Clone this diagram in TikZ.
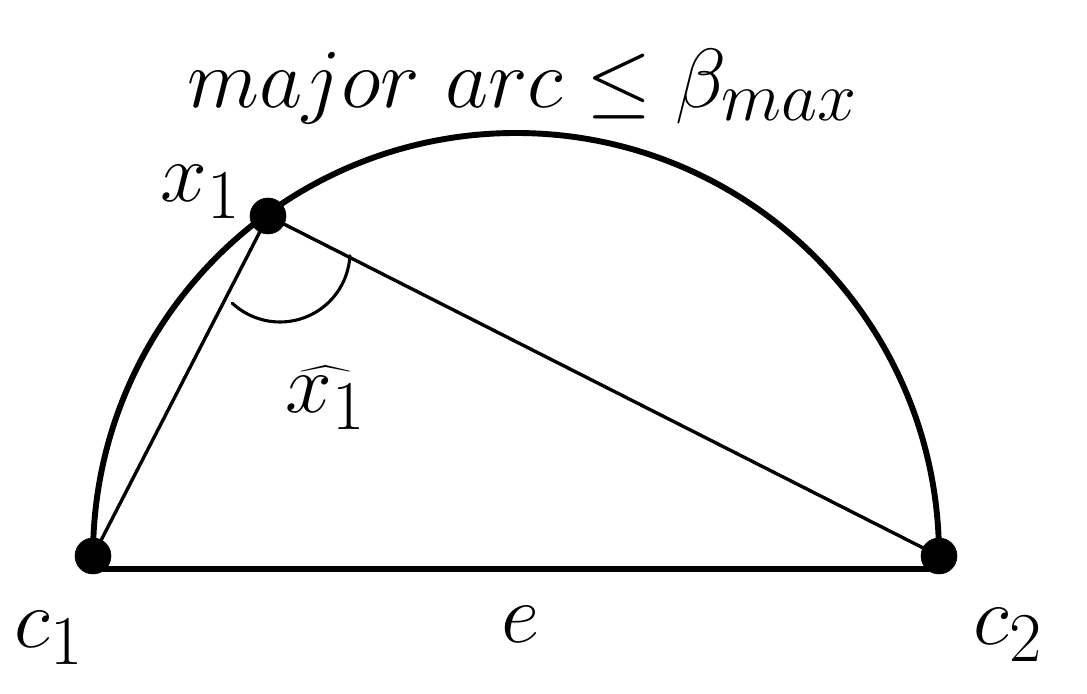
\documentclass[tikz,border=0pt]{standalone}
\usetikzlibrary{calc}
\begin{document}
\begin{tikzpicture}[x=0.025cm, y=0.025cm, line join=round, line cap=round, font=\Huge, lbl/.style={scale=2.4, inner sep=0pt}]
	\useasboundingbox (0,0) rectangle (1087,694);
	\coordinate (O) at (516,138);
	\coordinate (c1) at (93,138);
	\coordinate (c2) at (939,138);
	\coordinate (x1) at (268,478);
	% major arc and chords
	\draw[line width=4.2pt] (c2) arc (0:180:423);
	\draw[line width=4.2pt] ($(c1)+(0,-13)$)--($(c2)+(0,-13)$);
	\draw[line width=2.4pt] (c1)--(x1)--(c2);
	\draw[line width=2.2pt] ($(x1)+(12,-36)+(-133:70)$) arc (-133:-3:70);
	\node[lbl, anchor=base] (title) at (523,586) {$major\ arc \leq \beta_{max}$};
	\node[lbl, anchor=base west] (lx1) at (160,492) {$x_1$};
	\node[lbl, anchor=base west] (angx1) at (285,281) {$\widehat{x_1}$};
	\node[lbl, anchor=base west] (lc1) at (14,46) {$c_1$};
	\node[lbl, anchor=base west] (lc2) at (973,49) {$c_2$};
	\node[lbl, anchor=base] (le) at (521,51) {$e$};
	% points
	\filldraw (c1) circle (18);
	\filldraw (c2) circle (18);
	\filldraw (x1) circle (18);
\end{tikzpicture}
\end{document}
